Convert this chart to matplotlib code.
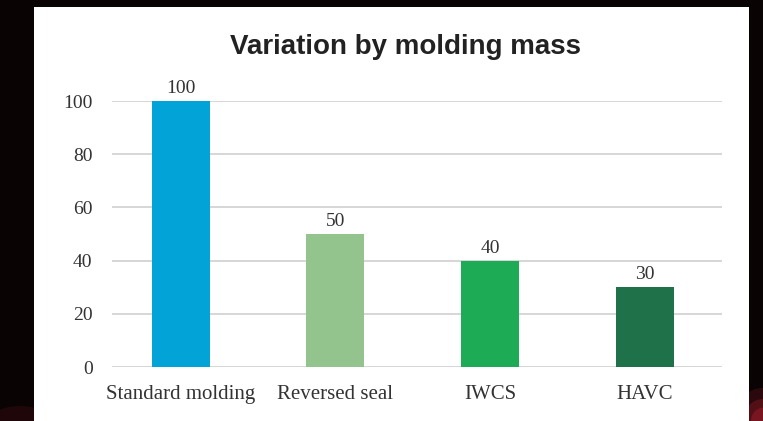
import matplotlib.pyplot as plt
from matplotlib.patches import Rectangle, Ellipse

categories = ["Standard molding", "Reversed seal", "IWCS", "HAVC"]
values = [100, 50, 40, 30]
colors = ["#02a4d8", "#93c48e", "#1eab56", "#1e7149"]

W, H = 763, 421
fig = plt.figure(figsize=(W / 100, H / 100), dpi=100)
fig.patch.set_facecolor("#0a0303")

# faint red glow in the lower corners of the dark backdrop
for r, a in [(30, 0.2), (20, 0.3), (12, 0.4)]:
    fig.patches.append(Ellipse((763 / W, 0), 2 * r / W, 2.2 * r / H,
                               transform=fig.transFigure, facecolor="#b02030",
                               edgecolor="none", alpha=a, zorder=-10))
fig.patches.append(Ellipse((20 / W, 0), 60 / W, 30 / H,
                           transform=fig.transFigure, facecolor="#601018",
                           edgecolor="none", alpha=0.25, zorder=-10))

# white panel behind the chart
fig.patches.append(Rectangle((34 / W, 0), (749 - 34) / W, (H - 7) / H,
                             transform=fig.transFigure, facecolor="white",
                             edgecolor="none", zorder=-5))

ax = fig.add_axes([112 / W, 54 / H, 610 / W, 266 / H])
ax.set_facecolor("white")

x = range(len(categories))
ax.bar(x, values, width=0.375, color=colors, zorder=2)
for xi, v in zip(x, values):
    ax.text(xi, v + 1.5, str(v), ha="center", va="bottom",
            family="Liberation Serif", fontsize=14, color="#333333")

ax.set_xlim(-0.445, 3.5)
ax.set_ylim(0, 100)
ax.set_yticks(range(0, 101, 20))
ax.set_xticks(list(x))
ax.set_xticklabels(categories)
ax.yaxis.grid(True, color="#d0d0d0", linewidth=1.2, zorder=0)
ax.tick_params(length=0, labelsize=14, labelcolor="#333333")
ax.tick_params(axis="x", labelsize=15, pad=13)
ax.tick_params(axis="y", pad=14)
for lab in ax.get_xticklabels() + ax.get_yticklabels():
    lab.set_family("Liberation Serif")
for s in ax.spines.values():
    s.set_visible(False)

fig.text(405 / W, 1 - 47 / H, "Variation by molding mass", ha="center",
         va="center", family="Liberation Sans", fontweight="bold",
         fontsize=20, color="#222222")

fig.savefig("out.png", dpi=100, facecolor=fig.get_facecolor())
